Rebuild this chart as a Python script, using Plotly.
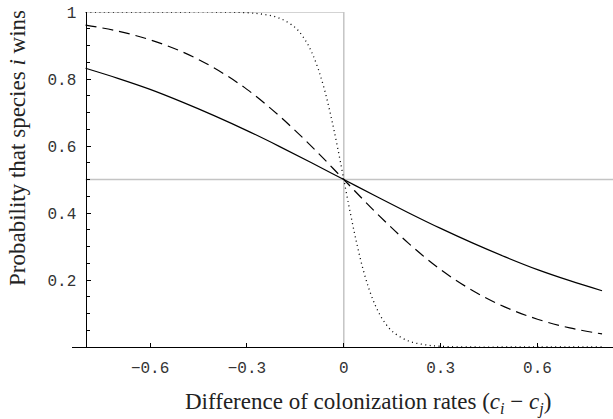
import plotly.graph_objects as go

# Data
x_main = [-0.8, -0.7, -0.6, -0.5, -0.4, -0.3, -0.2, -0.1, 0.0,
          0.1, 0.2, 0.3, 0.4, 0.5, 0.6, 0.7, 0.8]
y_solid = [0.832, 0.802, 0.769, 0.731, 0.690, 0.646, 0.599, 0.550, 0.500,
           0.450, 0.401, 0.354, 0.310, 0.269, 0.231, 0.198, 0.168]
y_dashed = [0.961, 0.943, 0.917, 0.881, 0.832, 0.769, 0.690, 0.599, 0.500,
            0.401, 0.310, 0.231, 0.168, 0.119, 0.083, 0.057, 0.039]
x_dotted = [-0.8, -0.6, -0.5, -0.4, -0.3, -0.25, -0.2, -0.15, -0.12, -0.1,
            -0.08, -0.06, -0.04, -0.02, 0.0, 0.02, 0.04, 0.06, 0.08, 0.1,
            0.12, 0.15, 0.2, 0.25, 0.3, 0.4, 0.5, 0.6, 0.8]
y_dotted = [1.000, 1.000, 1.000, 1.000, 0.998, 0.993, 0.982, 0.953, 0.917, 0.881,
            0.832, 0.769, 0.690, 0.599, 0.500, 0.401, 0.310, 0.231, 0.168, 0.119,
            0.083, 0.047, 0.018, 0.007, 0.002, 0.000, 0.000, 0.000, 0.000]

x_ticks = [-0.6, -0.3, 0, 0.3, 0.6]
x_ticktext = ["\u22120.6", "\u22120.3", "0", "0.3", "0.6"]
y_ticks = [0.2, 0.4, 0.6, 0.8, 1.0]
y_ticktext = ["0.2", "0.4", "0.6", "0.8", "1"]

X_MIN, X_MAX = -0.842, 0.834
Y_AXIS_X = -0.8

fig = go.Figure()

GRAY = "#c4c4c4"
# reference gray lines
fig.add_shape(type="line", x0=Y_AXIS_X, x1=X_MAX, y0=0.5, y1=0.5,
              line=dict(color=GRAY, width=1.5), layer="below")
fig.add_shape(type="line", x0=0, x1=0, y0=0, y1=1,
              line=dict(color=GRAY, width=1.5), layer="below")
fig.add_shape(type="line", x0=Y_AXIS_X, x1=0, y0=1, y1=1,
              line=dict(color=GRAY, width=1.5), layer="below")

fig.add_trace(go.Scatter(x=x_main, y=y_solid, mode="lines",
                         line=dict(color="black", width=1.2, shape="spline"),
                         showlegend=False, hoverinfo="skip"))
fig.add_trace(go.Scatter(x=x_main, y=y_dashed, mode="lines",
                         line=dict(color="black", width=1.2, shape="spline", dash="11px,6px"),
                         showlegend=False, hoverinfo="skip"))
fig.add_trace(go.Scatter(x=x_dotted, y=y_dotted, mode="lines",
                         line=dict(color="black", width=1.3, shape="spline", dash="1px,3.5px"),
                         showlegend=False, hoverinfo="skip", cliponaxis=False))

pos = (Y_AXIS_X - X_MIN) / (X_MAX - X_MIN)

fig.update_layout(
    width=613, height=419,
    margin=dict(l=72, r=0, t=12, b=72),
    paper_bgcolor="white", plot_bgcolor="white",
    xaxis=dict(range=[X_MIN, X_MAX], domain=[0, 1], showgrid=False, zeroline=False,
               showline=True, linecolor="black", linewidth=1.2,
               tickvals=x_ticks, ticktext=x_ticktext, ticks="inside", ticklen=4,
               tickcolor="black", tickwidth=1,
               tickfont=dict(family="Liberation Mono", size=16, color="#333"),
               ticklabelstandoff=6),
    yaxis=dict(range=[0, 1], anchor="free", position=pos, showgrid=False, zeroline=False,
               showline=True, linecolor="black", linewidth=1.2,
               tickvals=y_ticks, ticktext=y_ticktext, ticks="inside", ticklen=4,
               tickcolor="black", tickwidth=1,
               tickfont=dict(family="Liberation Mono", size=16, color="#333"),
               ticklabelstandoff=6,
               minor=dict(dtick=0.05, tick0=0, ticks="inside", ticklen=3,
                          tickcolor="black", tickwidth=1)),
    annotations=[
        dict(text="Difference of colonization rates (<i>c<sub>i</sub></i> \u2212 <i>c<sub>j</sub></i>)",
             xref="paper", yref="paper", x=(368 - 72) / 541, y=-(403 - 347) / 335,
             xanchor="center", yanchor="middle", showarrow=False,
             font=dict(family="Liberation Serif", size=23, color="#222")),
        dict(text="Probability that species <i>i</i> wins",
             xref="paper", yref="paper", x=-(72 - 17) / 541, y=(347 - 148) / 335,
             xanchor="center", yanchor="middle", showarrow=False, textangle=-90,
             font=dict(family="Liberation Serif", size=23, color="#222")),
    ],
)

fig.write_html("out.html")
